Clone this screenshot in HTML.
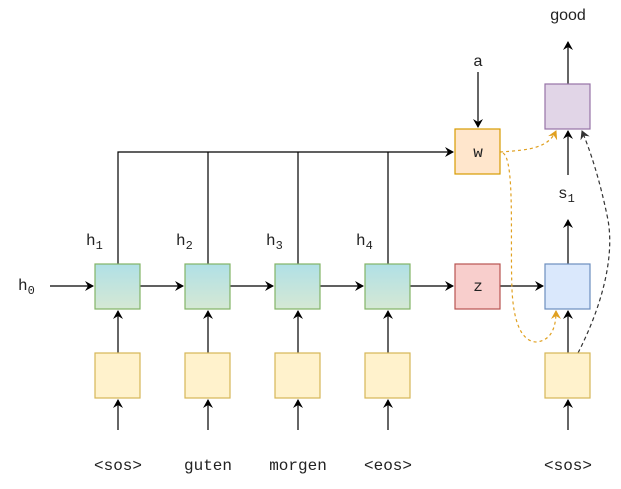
<!DOCTYPE html>
<html><head><style>body{margin:0;background:#fff}svg{display:block}</style></head><body>
<svg width="621" height="489" xmlns="http://www.w3.org/2000/svg" font-family="Liberation Mono, monospace" font-size="16" fill="#222">
<defs>
<marker id="a" markerWidth="10" markerHeight="10" refX="8" refY="5" orient="auto" markerUnits="userSpaceOnUse"><path d="M0,0 L9,5 L0,10 L3,5z" fill="#000"/></marker>
<marker id="o" markerWidth="10" markerHeight="10" refX="8" refY="5" orient="auto" markerUnits="userSpaceOnUse"><path d="M0,0 L9,5 L0,10 L3,5z" fill="#e0a020"/></marker>
<marker id="g" markerWidth="10" markerHeight="10" refX="8" refY="5" orient="auto" markerUnits="userSpaceOnUse"><path d="M0,0 L9,5 L0,10 L3,5z" fill="#333"/></marker>
<linearGradient id="gr" x1="0" y1="0" x2="0" y2="1"><stop offset="0" stop-color="#b0e0e6"/><stop offset="1" stop-color="#d5e8d4"/></linearGradient>
</defs>
<g stroke="#000" stroke-width="1.2" fill="none" marker-end="url(#a)">
<path d="M118 264V152H453"/>
<path d="M50 286H93"/>
<path d="M140 286H183"/><path d="M230 286H273"/><path d="M320 286H363"/><path d="M410 286H453"/><path d="M500 286H543"/>
<path d="M118 353V311"/><path d="M208 353V311"/><path d="M298 353V311"/><path d="M388 353V311"/><path d="M568 353V311"/>
<path d="M118 430V400"/><path d="M208 430V400"/><path d="M298 430V400"/><path d="M388 430V400"/><path d="M568 430V400"/>
<path d="M478 72V127"/><path d="M568 264V220"/><path d="M568 175V131"/><path d="M568 84V42"/>
</g>
<path d="M208 264V152M298 264V152M388 264V152" stroke="#000" stroke-width="1.2" fill="none"/>
<g stroke="#e0a020" stroke-width="1.2" fill="none" stroke-dasharray="3,3">
<path d="M500 152C530 150 548 148 556 131" marker-end="url(#o)"/>
<path d="M503 153C515 160 510 240 512 290C514 330 525 342 537 342C550 340 556 330 556 311" marker-end="url(#o)"/>
</g>
<path d="M578 353C600 310 615 260 608 220C600 180 590 150 582 131" stroke="#333" stroke-width="1.2" fill="none" stroke-dasharray="4,3" marker-end="url(#g)"/>
<g stroke-width="1.2">
<rect x="95" y="264" width="45" height="45" fill="url(#gr)" stroke="#82b366"/>
<rect x="185" y="264" width="45" height="45" fill="url(#gr)" stroke="#82b366"/>
<rect x="275" y="264" width="45" height="45" fill="url(#gr)" stroke="#82b366"/>
<rect x="365" y="264" width="45" height="45" fill="url(#gr)" stroke="#82b366"/>
<rect x="95" y="353" width="45" height="45" fill="#fff2cc" stroke="#d6b656"/>
<rect x="185" y="353" width="45" height="45" fill="#fff2cc" stroke="#d6b656"/>
<rect x="275" y="353" width="45" height="45" fill="#fff2cc" stroke="#d6b656"/>
<rect x="365" y="353" width="45" height="45" fill="#fff2cc" stroke="#d6b656"/>
<rect x="545" y="353" width="45" height="45" fill="#fff2cc" stroke="#d6b656"/>
<rect x="455" y="129" width="45" height="45" fill="#ffe6cc" stroke="#d79b00"/>
<rect x="455" y="264" width="45" height="45" fill="#f8cecc" stroke="#b85450"/>
<rect x="545" y="264" width="45" height="45" fill="#dae8fc" stroke="#6c8ebf"/>
<rect x="545" y="84" width="45" height="45" fill="#e1d5e7" stroke="#9673a6"/>
</g>
<g text-anchor="middle">
<text x="478" y="157">w</text><text x="478" y="291">z</text>
<text x="118" y="470">&lt;sos&gt;</text><text x="208" y="470">guten</text><text x="298" y="470">morgen</text><text x="388" y="470">&lt;eos&gt;</text><text x="568" y="470">&lt;sos&gt;</text>
<text x="478" y="66" font-family="Liberation Sans, sans-serif">a</text>
<text x="568" y="20" font-family="Liberation Sans, sans-serif">good</text>
</g>
<text x="18" y="290">h<tspan font-size="12" dy="4">0</tspan></text>
<text x="86" y="245">h<tspan font-size="12" dy="4">1</tspan></text>
<text x="176" y="245">h<tspan font-size="12" dy="4">2</tspan></text>
<text x="266" y="245">h<tspan font-size="12" dy="4">3</tspan></text>
<text x="356" y="245">h<tspan font-size="12" dy="4">4</tspan></text>
<text x="558" y="198">s<tspan font-size="12" dy="4">1</tspan></text>
</svg>
</body></html>
